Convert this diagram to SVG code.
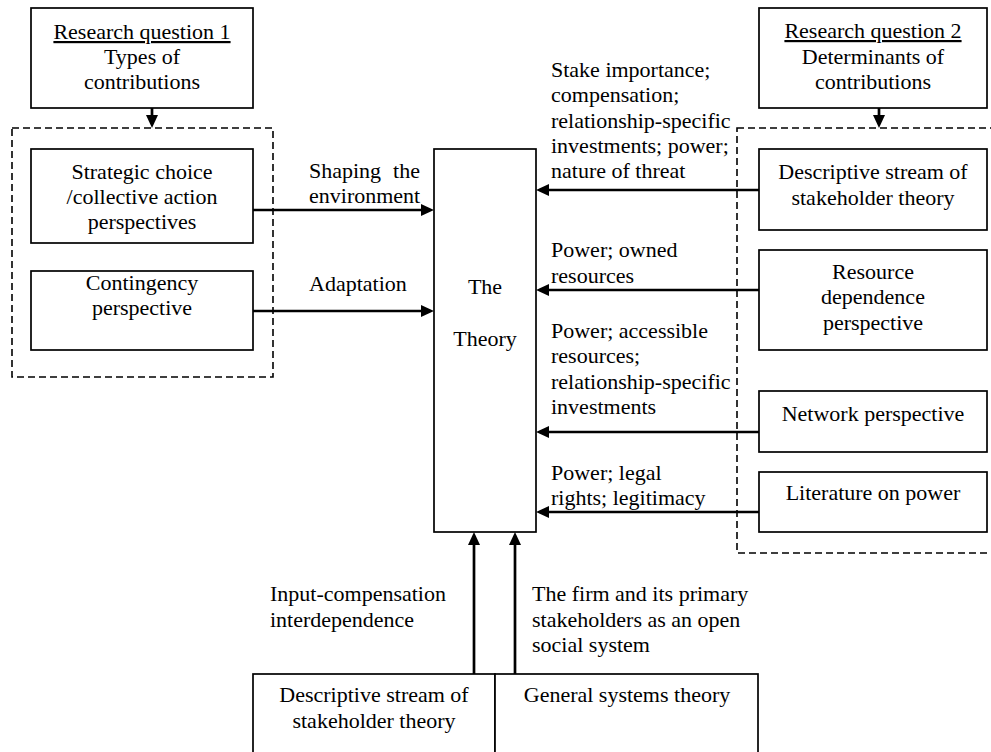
<svg xmlns="http://www.w3.org/2000/svg" width="991" height="752" viewBox="0 0 991 752">
  <style>
    text { font-family: "Liberation Serif", "Times New Roman", serif; font-size: 22px; fill: #000; }
    .c { text-anchor: middle; }
    .u { text-decoration: underline; }
    .box { fill: #fff; stroke: #000; stroke-width: 1.7; }
    .dash { fill: none; stroke: #000; stroke-width: 1.6; stroke-dasharray: 7 4; }
    .arrow { fill: none; stroke: #000; stroke-width: 2.7; marker-end: url(#ah); }
  </style>
  <defs>
    <marker id="ah" viewBox="0 0 13 12" refX="7" refY="6" markerWidth="13" markerHeight="12" markerUnits="userSpaceOnUse" orient="auto">
      <path d="M0,0 L13,6 L0,12 z" fill="#000"/>
    </marker>
  </defs>

  <rect width="991" height="752" fill="#fff"/>

  <!-- dashed groupings -->
  <rect class="dash" x="12" y="128" width="261" height="249"/>
  <rect class="dash" x="737" y="128" width="270" height="425"/>

  <!-- connectors -->
  <g id="connectors">
    <path class="arrow" d="M152,108 V122"/>
    <path class="arrow" d="M879,108 V122"/>
    <path class="arrow" d="M253,210 H428"/>
    <path class="arrow" d="M253,311 H428"/>
    <path class="arrow" d="M759,190 H542"/>
    <path class="arrow" d="M759,290 H542"/>
    <path class="arrow" d="M759,432 H542"/>
    <path class="arrow" d="M759,512 H542"/>
    <path class="arrow" d="M474,674 V538"/>
    <path class="arrow" d="M515,674 V538"/>
  </g>

  <!-- connector labels -->
  <g id="labels">
    <text x="309" y="178">Shaping</text>
    <text x="420" y="178" text-anchor="end">the</text>
    <text x="309" y="203">environment</text>
    <text x="309" y="291">Adaptation</text>
    <text x="551" y="77">Stake importance;</text>
    <text x="551" y="102">compensation;</text>
    <text x="551" y="128">relationship-specific</text>
    <text x="551" y="153">investments; power;</text>
    <text x="551" y="178">nature of threat</text>
    <text x="551" y="257">Power; owned</text>
    <text x="551" y="283">resources</text>
    <text x="551" y="338">Power; accessible</text>
    <text x="551" y="363">resources;</text>
    <text x="551" y="389">relationship-specific</text>
    <text x="551" y="414">investments</text>
    <text x="551" y="480">Power; legal</text>
    <text x="551" y="505">rights; legitimacy</text>
    <text x="270" y="601">Input-compensation</text>
    <text x="270" y="627">interdependence</text>
    <text x="532" y="601">The firm and its primary</text>
    <text x="532" y="627">stakeholders as an open</text>
    <text x="532" y="652">social system</text>
  </g>

  <g id="rq1">
    <rect class="box" x="31" y="8" width="222" height="100"/>
    <text class="c u" x="142" y="39">Research question 1</text>
    <text class="c" x="142" y="64">Types of</text>
    <text class="c" x="142" y="89">contributions</text>
  </g>

  <g id="strategic-choice">
    <rect class="box" x="31" y="149" width="222" height="94"/>
    <text class="c" x="142" y="179">Strategic choice</text>
    <text class="c" x="142" y="204">/collective action</text>
    <text class="c" x="142" y="229">perspectives</text>
  </g>

  <g id="contingency">
    <rect class="box" x="31" y="271" width="222" height="79"/>
    <text class="c" x="142" y="290">Contingency</text>
    <text class="c" x="142" y="315">perspective</text>
  </g>

  <g id="theory">
    <rect class="box" x="434" y="149" width="102" height="383"/>
    <text class="c" x="485" y="294">The</text>
    <text class="c" x="485" y="346">Theory</text>
  </g>

  <g id="rq2">
    <rect class="box" x="759" y="8" width="228" height="100"/>
    <text class="c u" x="873" y="38">Research question 2</text>
    <text class="c" x="873" y="64">Determinants of</text>
    <text class="c" x="873" y="89">contributions</text>
  </g>

  <g id="descriptive-stream">
    <rect class="box" x="759" y="149" width="228" height="81"/>
    <text class="c" x="873" y="179">Descriptive stream of</text>
    <text class="c" x="873" y="205">stakeholder theory</text>
  </g>

  <g id="resource-dependence">
    <rect class="box" x="759" y="250" width="228" height="100"/>
    <text class="c" x="873" y="279">Resource</text>
    <text class="c" x="873" y="304">dependence</text>
    <text class="c" x="873" y="330">perspective</text>
  </g>

  <g id="network">
    <rect class="box" x="759" y="391" width="228" height="61"/>
    <text class="c" x="873" y="421">Network perspective</text>
  </g>

  <g id="power-literature">
    <rect class="box" x="759" y="472" width="228" height="60"/>
    <text class="c" x="873" y="500">Literature on power</text>
  </g>

  <g id="descriptive-stream-bottom">
    <rect class="box" x="253" y="674" width="242" height="90"/>
    <text class="c" x="374" y="702">Descriptive stream of</text>
    <text class="c" x="374" y="728">stakeholder theory</text>
  </g>

  <g id="general-systems">
    <rect class="box" x="495" y="674" width="263" height="90"/>
    <text class="c" x="627" y="702">General systems theory</text>
  </g>
</svg>
